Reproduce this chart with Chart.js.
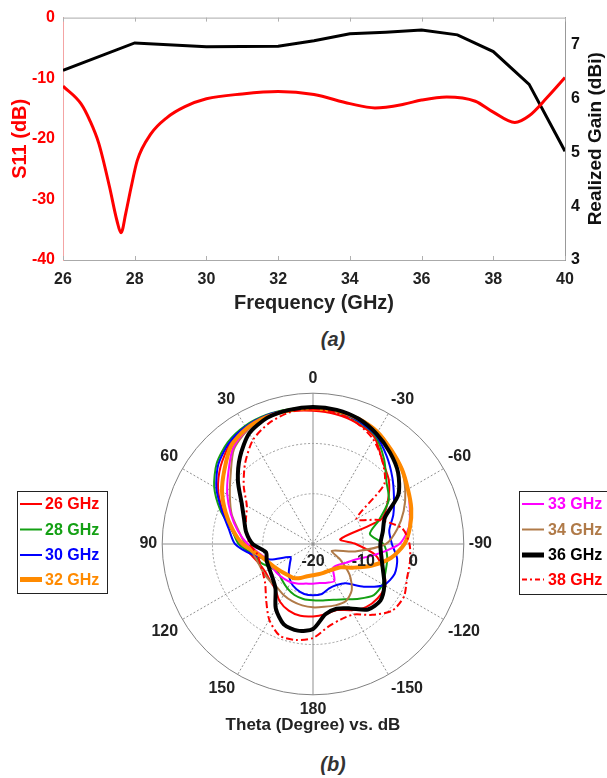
<!DOCTYPE html>
<html>
<head>
<meta charset="utf-8">
<script src="https://cdn.jsdelivr.net/npm/chart.js@4.4.1/dist/chart.umd.min.js"></script>
<style>
  html, body { margin: 0; padding: 0; background: #fff; width: 607px; height: 778px; overflow: hidden; }
  #wrapA { position: absolute; left: 0; top: 0; width: 607px; height: 320px; }
  #wrapB { position: absolute; left: 0; top: 360px; width: 607px; height: 380px; }
  .cap { position: absolute; width: 60px; text-align: center; font: italic bold 20px "Liberation Sans", Arial, sans-serif; color: #333; }
</style>
</head>
<body>
<div id="wrapA"><canvas id="s11Chart" width="607" height="320"></canvas></div>
<div class="cap" style="left:303px; top:328px;">(a)</div>
<div id="wrapB"><canvas id="patternChart" width="607" height="380"></canvas></div>
<div class="cap" style="left:303px; top:753px;">(b)</div>

<script>
// ---------- (a) reflection coefficient and realized gain ----------
const s11Freq = [26, 26.5, 26.75, 27, 27.3, 27.5, 27.62, 27.75, 27.9, 28.07, 28.45, 28.9, 29.4, 30, 31, 32, 33, 34, 34.7, 35.5, 36, 36.7, 37.5, 38, 38.6, 39, 39.5, 40];
const s11dB = [-11.3, -14.2, -17, -20.8, -28, -33.4, -35.5, -32.3, -28, -23.6, -19.2, -16.5, -14.7, -13.4, -12.6, -12.2, -12.7, -14.2, -14.9, -14.3, -13.6, -13.1, -13.8, -15.6, -17.3, -16.2, -13.2, -9.9];

const gainFreq = [26, 28, 30, 32, 33, 34, 35, 36, 37, 38, 39, 40];
const gainDBi = [6.52, 7.03, 6.96, 6.97, 7.07, 7.2, 7.23, 7.27, 7.18, 6.87, 6.26, 5.02];

const freqTicks = [26, 28, 30, 32, 34, 36, 38, 40];

// ---------- (b) radiation patterns ----------
// angles run clockwise from the top: 0, -10, ..., -170, 180, 170, ..., 10
const thetaDeg = [0, -10, -20, -30, -40, -50, -60, -70, -80, -90, -100, -110, -120, -130, -140, -150, -160, -170,
                  180, 170, 160, 150, 140, 130, 120, 110, 100, 90, 80, 70, 60, 50, 40, 30, 20, 10];

const pat26 = [6.5, 6.2, 5.6, 4.5, 1.5, -0.3, -2.8, -5.5, -14.5, -11.5, -7.4, -5.2, -3.4, -3.2, -3.6, -4.8, -6.0, -5.8,
               -5.6, -5.5, -5.9, -6.8, -8.3, -8.8, -9.0, -8.6, -7.5, -5.6, -3.5, -0.9, 1.8, 4.0, 5.8, 6.7, 7.0, 6.8];
const pat28 = [7.0, 6.7, 6.0, 4.8, 2.0, -0.9, -2.6, -6.0, -8.5, -6.0, -5.0, -4.6, -4.0, -4.2, -5.8, -7.3, -8.2, -8.6,
               -8.8, -8.9, -9.2, -9.8, -10.5, -11.0, -10.5, -9.0, -8.0, -5.2, -3.6, -0.4, 2.7, 5.0, 6.4, 7.1, 7.3, 7.2];
const pat30 = [6.97, 6.7, 6.1, 5.0, 2.8, 0.6, -1.4, -3.0, -4.6, -4.3, -3.0, -2.7, -3.7, -6.8, -9.8, -10.6, -10.6, -9.9,
               -9.8, -9.9, -10.4, -11.2, -12.5, -14.0, -14.8, -11.0, -7.8, -4.5, -3.0, -0.7, 2.2, 4.6, 6.1, 6.9, 7.2, 7.1];
const pat32 = [6.98, 6.9, 6.5, 5.7, 4.3, 3.1, 1.8, 0.8, -0.4, -1.8, -4.2, -7.5, -10.6, -12.8, -13.5, -13.8, -13.9, -13.9,
               -13.8, -13.5, -12.8, -12.2, -12.0, -11.6, -11.0, -10.2, -8.8, -6.0, -3.8, -1.5, 0.9, 3.0, 5.4, 6.5, 6.9, 7.0];
const pat33 = [7.08, 7.0, 6.6, 5.8, 4.4, 3.2, 1.8, 0.5, -0.6, -2.8, -7.5, -11.0, -12.5, -13.5, -13.8, -11.5, -11.8, -12.1,
               -12.1, -12.0, -11.6, -11.2, -11.0, -10.8, -10.7, -10.4, -9.2, -7.0, -4.8, -2.6, -0.3, 2.0, 4.8, 6.3, 6.9, 7.1];
const pat34 = [7.2, 7.0, 6.6, 5.8, 4.3, 3.0, 1.2, -0.8, -3.0, -5.5, -11.5, -16.0, -13.7, -10.5, -8.0, -6.9, -7.0, -7.3,
               -7.4, -7.6, -7.9, -8.3, -8.8, -8.7, -8.6, -8.5, -8.0, -6.5, -5.0, -2.8, -0.9, 1.4, 4.5, 6.1, 6.8, 7.1];
const pat36 = [7.27, 7.1, 6.5, 5.3, 3.8, 2.1, -0.4, -4.8, -5.9, -6.6, -6.2, -5.2, -3.6, -2.5, -3.0, -5.2, -6.3, -5.8,
               -3.1, -2.5, -3.0, -5.2, -8.4, -9.5, -10.0, -10.2, -10.5, -8.0, -6.5, -5.4, -3.6, -0.5, 2.6, 5.4, 6.7, 7.1];
const pat38 = [6.87, 6.5, 5.6, 4.0, 1.5, -1.5, -10.0, -6.0, -2.0, -0.8, -0.4, -0.1, 0.9, 0.6, -1.6, -3.8, -4.0, -3.2,
               -1.3, -0.6, -0.6, -2.6, -5.5, -7.6, -8.5, -8.8, -8.7, -7.4, -6.5, -5.8, -4.8, -2.0, 1.0, 3.9, 5.6, 6.6];

const seriesNames = ['26 GHz', '28 GHz', '30 GHz', '32 GHz', '33 GHz', '34 GHz', '36 GHz', '38 GHz'];
const radialTicks = [-20, -10, 0];

const FONT = '"Liberation Sans", Arial, Helvetica, sans-serif';
Chart.defaults.font.family = FONT;

// ---------- chart (a) ----------
const frameAndTitle = {
  id: 'frameAndTitle',
  afterDraw(chart) {
    const { ctx, chartArea: a, scales } = chart;
    ctx.save();
    // top frame line
    ctx.strokeStyle = '#aaaaaa';
    ctx.lineWidth = 1;
    ctx.beginPath();
    ctx.moveTo(a.left, a.top + 0.5);
    ctx.lineTo(a.right, a.top + 0.5);
    ctx.stroke();
    // inward tick marks
    ctx.strokeStyle = '#b0b0b0';
    freqTicks.forEach(f => {
      const x = Math.round(scales.x.getPixelForValue(f)) + 0.5;
      ctx.beginPath();
      ctx.moveTo(x, a.top); ctx.lineTo(x, a.top + 4);
      ctx.moveTo(x, a.bottom); ctx.lineTo(x, a.bottom - 4);
      ctx.stroke();
    });
    // right axis title, reading bottom to top
    ctx.fillStyle = '#111';
    ctx.font = 'bold 19px ' + FONT;
    ctx.textAlign = 'center';
    ctx.textBaseline = 'middle';
    ctx.translate(596, (a.top + a.bottom) / 2);
    ctx.rotate(-Math.PI / 2);
    ctx.fillText('Realized Gain (dBi)', 0, 0);
    ctx.restore();
  }
};

new Chart(document.getElementById('s11Chart'), {
  type: 'line',
  data: {
    datasets: [
      {
        label: 'S11',
        data: s11Freq.map((f, i) => ({ x: f, y: s11dB[i] })),
        borderColor: '#ff0000',
        borderWidth: 3,
        pointRadius: 0,
        cubicInterpolationMode: 'monotone',
        yAxisID: 'y'
      },
      {
        label: 'Realized Gain',
        data: gainFreq.map((f, i) => ({ x: f, y: gainDBi[i] })),
        borderColor: '#000000',
        borderWidth: 3,
        pointRadius: 0,
        tension: 0,
        yAxisID: 'y1'
      }
    ]
  },
  options: {
    responsive: false,
    animation: false,
    layout: { padding: { top: 16, left: 0, right: 0, bottom: 0 } },
    plugins: { legend: { display: false }, tooltip: { enabled: false } },
    scales: {
      x: {
        type: 'linear', min: 26, max: 40,
        afterBuildTicks: s => { s.ticks = freqTicks.map(v => ({ value: v })); },
        ticks: { font: { size: 16, weight: 'bold' }, color: '#222', padding: 10 },
        grid: { display: false, drawTicks: false },
        border: { color: '#aaaaaa' },
        title: { display: true, text: 'Frequency (GHz)', color: '#222', font: { size: 20, weight: 'bold' }, padding: { top: 0, bottom: 5 } },
        afterFit: s => { s.height = 60; }
      },
      y: {
        position: 'left', min: -40, max: 0,
        ticks: { stepSize: 10, font: { size: 16, weight: 'bold' }, color: '#ff0000', padding: 8 },
        grid: { display: false, drawTicks: false },
        border: { color: '#f4a4a4' },
        title: { display: true, text: 'S11 (dB)', color: '#ff0000', font: { size: 20, weight: 'bold' }, padding: { top: 8, bottom: 0 } },
        afterFit: s => { s.width = 63; }
      },
      y1: {
        position: 'right', min: 3, max: 7.5,
        ticks: { stepSize: 1, includeBounds: false, font: { size: 16, weight: 'bold' }, color: '#111', padding: 6 },
        grid: { display: false, drawTicks: false },
        border: { color: '#999999' },
        afterFit: s => { s.width = 42; }
      }
    }
  },
  plugins: [frameAndTitle]
});

// ---------- chart (b) ----------
const lineStyles = [
  { color: '#ff0000', width: 2, dash: [] },
  { color: '#14a014', width: 2, dash: [] },
  { color: '#0000ff', width: 2, dash: [] },
  { color: '#ff8a00', width: 4, dash: [] },
  { color: '#ff00ff', width: 2, dash: [] },
  { color: '#b07a48', width: 2, dash: [] },
  { color: '#000000', width: 4, dash: [] },
  { color: '#ff0000', width: 2, dash: [7, 3, 2, 3] }
];
const legendText = ['#ff0000', '#14a014', '#0000ff', '#ff8a00', '#ff00ff', '#b07a48', '#000000', '#ff0000'];
const drawOrder = [6, 5, 4, 2, 3, 3, 0, 1];
const patterns = [pat26, pat28, pat30, pat32, pat33, pat34, pat36, pat38];

const thetaLabels = thetaDeg.map(t => String(t));

const patternDecor = {
  id: 'patternDecor',
  afterDatasetsDraw(chart) {
    const { ctx } = chart;
    const r = chart.scales.r;
    ctx.save();
    ctx.fillStyle = '#222';
    ctx.font = 'bold 16px ' + FONT;
    ctx.textAlign = 'center';
    ctx.textBaseline = 'middle';
    radialTicks.forEach(v => {
      ctx.fillText(String(v), r.xCenter + r.getDistanceFromCenterForValue(v), r.yCenter + 18);
    });
    ctx.restore();
  },
  afterDraw(chart) {
    const { ctx } = chart;
    const r = chart.scales.r;
    ctx.save();
    ctx.fillStyle = '#222';
    ctx.font = 'bold 17px ' + FONT;
    ctx.textAlign = 'center';
    ctx.textBaseline = 'middle';
    ctx.fillText('Theta (Degree) vs. dB', r.xCenter, 365);

    // legend boxes
    const boxes = [
      { x: 17, y: 131, w: 90, h: 102, items: [0, 1, 2, 3], lx: 20, tx: 45 },
      { x: 519, y: 131, w: 100, h: 103, items: [4, 5, 6, 7], lx: 522, tx: 548 }
    ];
    const rowsY = [144, 169.5, 195, 219.5];
    ctx.textAlign = 'left';
    ctx.font = 'bold 16px ' + FONT;
    boxes.forEach(b => {
      ctx.strokeStyle = '#222';
      ctx.lineWidth = 1;
      ctx.setLineDash([]);
      ctx.strokeRect(b.x + 0.5, b.y + 0.5, b.w, b.h);
      b.items.forEach((k, j) => {
        const y = rowsY[j];
        const st = lineStyles[k];
        ctx.strokeStyle = st.color;
        ctx.lineWidth = st.width + (st.width > 2 ? 1 : 0);
        ctx.setLineDash(st.dash.length ? [5, 3, 2, 3] : []);
        ctx.beginPath();
        ctx.moveTo(b.lx, y);
        ctx.lineTo(b.lx + 22, y);
        ctx.stroke();
        ctx.fillStyle = legendText[k];
        ctx.fillText(seriesNames[k], b.tx, y + 1);
      });
    });
    ctx.restore();
  }
};

new Chart(document.getElementById('patternChart'), {
  type: 'radar',
  data: {
    labels: thetaLabels,
    datasets: patterns.map((p, k) => ({
      label: seriesNames[k],
      data: p,
      borderColor: lineStyles[k].color,
      borderWidth: lineStyles[k].width,
      borderDash: lineStyles[k].dash,
      fill: false,
      pointRadius: 0,
      tension: 0.25,
      order: drawOrder[k]
    }))
  },
  options: {
    responsive: false,
    animation: false,
    layout: { padding: { top: 9, bottom: 21, left: 98, right: 79 } },
    plugins: { legend: { display: false }, tooltip: { enabled: false } },
    scales: {
      r: {
        min: -20, max: 10,
        ticks: { display: false, stepSize: 10 },
        grid: {
          circular: true,
          color: ctx => (ctx.tick && ctx.tick.value === 10 ? '#808080' : '#9a9a9a'),
          lineWidth: 1
        },
        border: { dash: ctx => (ctx.tick && ctx.tick.value === 10 ? [] : [2, 2]) },
        angleLines: {
          color: '#8f8f8f',
          lineWidth: ctx => (ctx.index % 3 === 0 ? 1 : 0),
          borderDash: ctx => (ctx.index % 9 === 0 ? [] : [2, 2])
        },
        pointLabels: {
          font: { size: 16, weight: 'bold' },
          color: '#222',
          padding: 5,
          callback: (label, i) => (i % 3 === 0 ? label : '')
        }
      }
    }
  },
  plugins: [patternDecor]
});
</script>
</body>
</html>
